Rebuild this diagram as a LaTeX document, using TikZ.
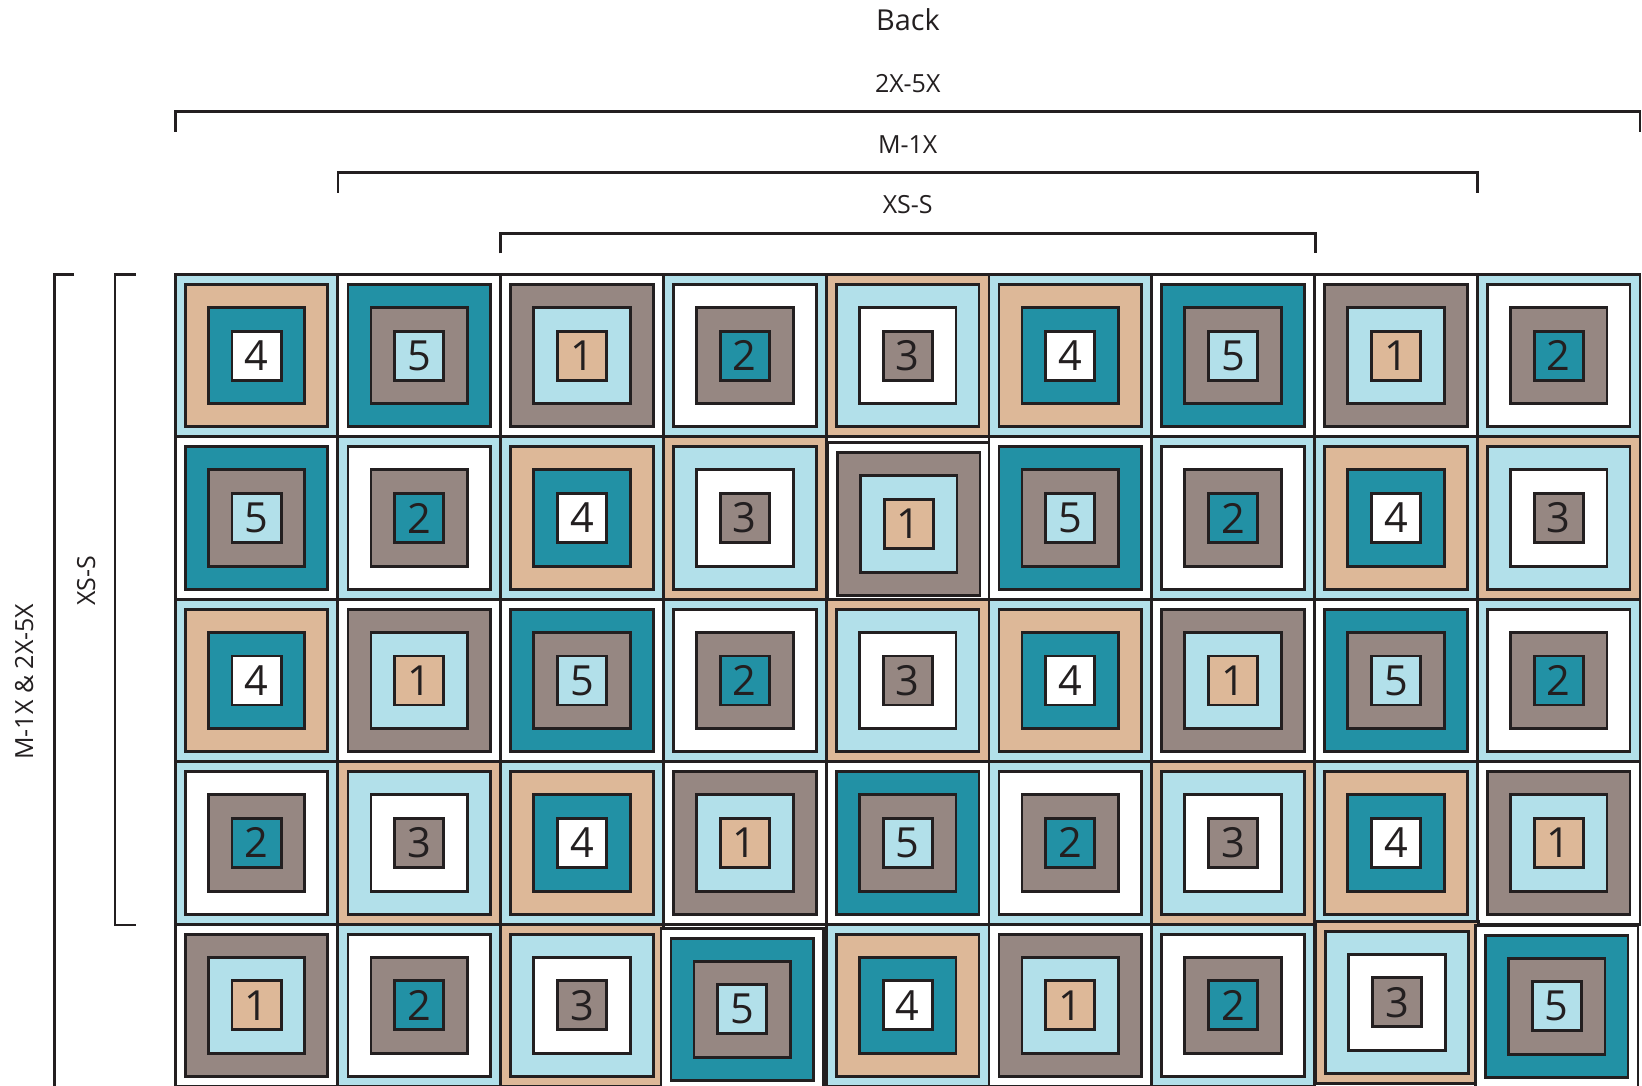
\documentclass[tikz,border=0pt]{standalone}
\usepackage{fontspec}
\setmainfont{Open Sans}
\usepackage{tikz}
\usetikzlibrary{positioning}

\definecolor{qtan}{HTML}{DDB898}
\definecolor{qteal}{HTML}{2291A5}
\definecolor{qgray}{HTML}{968782}
\definecolor{qblue}{HTML}{B2E0EA}
\definecolor{qink}{HTML}{231F20}

% colours of each numbered block: centre, middle, ring, outer band
\colorlet{in1}{qtan}  \colorlet{mid1}{qblue} \colorlet{ring1}{qgray} \colorlet{out1}{white}
\colorlet{in2}{qteal} \colorlet{mid2}{qgray} \colorlet{ring2}{white} \colorlet{out2}{qblue}
\colorlet{in3}{qgray} \colorlet{mid3}{white} \colorlet{ring3}{qblue} \colorlet{out3}{qtan}
\colorlet{in4}{white} \colorlet{mid4}{qteal} \colorlet{ring4}{qtan}  \colorlet{out4}{qblue}
\colorlet{in5}{qblue} \colorlet{mid5}{qgray} \colorlet{ring5}{qteal} \colorlet{out5}{white}

% blocks that sit a little off the grid (column, row)
\expandafter\def\csname qoff41\endcsname{1,6}
\expandafter\def\csname qoff34\endcsname{-2.5,4}
\expandafter\def\csname qoff74\endcsname{1,-3}
\expandafter\def\csname qoff84\endcsname{-2,1}

\newcommand{\qblock}[3]{% column, row, number
  \ifcsname qoff#1#2\endcsname
    \edef\qoff{\csname qoff#1#2\endcsname}%
  \else
    \def\qoff{0,0}%
  \fi
  \begin{scope}[shift={(175.3+#1*162.75,274.5+#2*162.4)}, shift={(\qoff)}]
    \draw[qline, fill=out#3]  (0,0)   rectangle (162.6,162.4);
    \draw[qline, fill=ring#3] (10,10) rectangle (152.6,152.4);
    \draw[qline, fill=mid#3]  (33,33) rectangle (129.6,129.4);
    \node[numbox, fill=in#3] (b-#2-#1) at (81.3,81.2) {#3};
  \end{scope}}

\begin{document}
\begin{tikzpicture}[
  x=0.01cm, y=-0.01cm,
  qline/.style={draw=qink, line width=0.8pt},
  numbox/.style={qline, minimum size=4.9mm, inner sep=0pt, text=qink,
    font=\fontsize{11.8}{12}\selectfont},
  lbl/.style={anchor=base, inner sep=0pt, text=qink, font=\fontsize{7.1}{8.5}\selectfont},
  brk/.style={draw=qink, line width=0.75pt},
]
\path[fill=white, use as bounding box] (0,0) rectangle (1642,1086);

% quilt blocks
\foreach \rowlist [count=\r from 0] in {
    {4,5,1,2,3,4,5,1,2},
    {5,2,4,3,1,5,2,4,3},
    {4,1,5,2,3,4,1,5,2},
    {2,3,4,1,5,2,3,4,1},
    {1,2,3,5,4,1,2,3,5}}
  \foreach \n [count=\c from 0] in \rowlist
    \qblock{\c}{\r}{\n};

% top labels and brackets
\node[lbl, font=\fontsize{8.2}{10}\selectfont] (back) at (908,31) {Back};
\node[lbl] (wide) at (907.7,92.3) {2X-5X};
\node[lbl] (mid) at (907.7,153.3) {M-1X};
\node[lbl] (small) at (907.7,214) {XS-S};
\draw[brk] (175.3,131.7) -- (175.3,111.7) -- (1640,111.7) -- (1640,131.7);
\draw[brk] (338,192.7) -- (338,172.7) -- (1477.6,172.7) -- (1477.6,192.7);
\draw[brk] (500.6,253.3) -- (500.6,233.3) -- (1315.3,233.3) -- (1315.3,253.3);

% side labels and brackets
\node[lbl, rotate=90] (sidewide) at (33,681.7) {M-1X \& 2X-5X};
\node[lbl, rotate=90] (sidesmall) at (95,581) {XS-S};
\draw[brk] (74,274.7) -- (54.3,274.7) -- (54.3,1090);
\draw[brk] (135.7,274.7) -- (115,274.7) -- (115,925) -- (135.7,925);
\end{tikzpicture}
\end{document}
